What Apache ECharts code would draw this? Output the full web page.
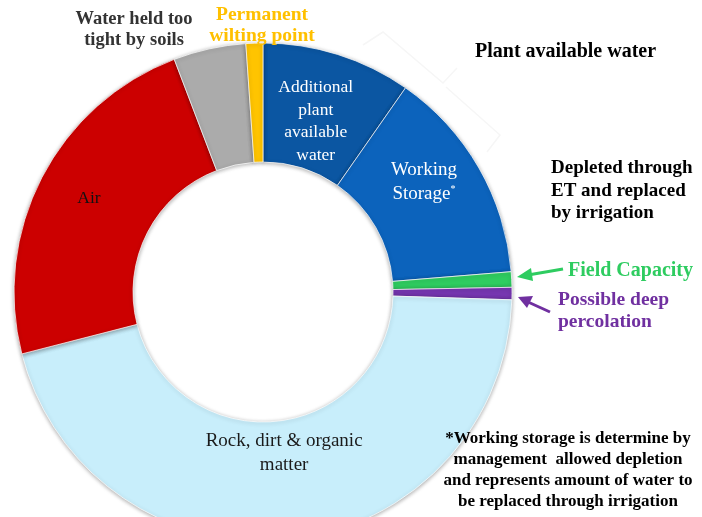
<!DOCTYPE html>
<html>
<head>
<meta charset="utf-8">
<script src="https://cdn.jsdelivr.net/npm/echarts@6/dist/echarts.min.js"></script>
<style>
html,body{margin:0;padding:0;background:#fff;}
#chart{width:702px;height:517px;}
</style>
</head>
<body>
<div id="chart"></div>
<script>
// Slice categories (clockwise from 12 o'clock)
const categories = [
  'Additional plant available water',
  'Working Storage',
  'Field Capacity',
  'Possible deep percolation',
  'Rock, dirt & organic matter',
  'Air',
  'Water held too tight by soils',
  'Permanent wilting point'
];
// Share of soil volume (%)
const values = [9.7, 14.0, 1.0, 0.8, 45.5, 23.2, 4.7, 1.1];
// Text drawn inside slices
const sliceLabels = [
  'Additional\nplant\navailable\nwater',
  'Working\nStorage{sup|*}',
  '', '',
  'Rock, dirt & organic\nmatter',
  'Air',
  '', ''
];
// Annotation texts
const annWater = 'Water held too\ntight by soils';
const annWilting = 'Permanent\nwilting point';
const annPlant = 'Plant available water';
const annDepleted = 'Depleted through\nET and replaced\nby irrigation';
const annField = 'Field Capacity';
const annDeep = 'Possible deep\npercolation';
const annFoot = ['*Working storage is determine by', 'management  allowed depletion', 'and represents amount of water to', 'be replaced through irrigation'];

const colors = ['#0b56a2', '#0c63bc', '#2fcc60', '#7636b0', '#c8eefb', '#cc0000', '#ababab', '#ffc400'];
const labelColors = ['#ffffff', '#ffffff', '#000', '#000', '#1a1a1a', '#111111', '#000', '#000'];
const labelSizes = [17.5, 19, 17, 17, 19, 17.5, 17, 17];
const labelShift = [[-5, 13], [-6, -14], [0, 0], [0, 0], [0, -30], [-3, -5], [0, 0], [0, 0]];

const chart = echarts.init(document.getElementById('chart'), null, {renderer: 'canvas'});
const serif = '"Liberation Serif", "DejaVu Serif", serif';

const data = categories.map((c, i) => ({
  name: c,
  value: values[i],
  itemStyle: {color: colors[i]},
  label: {
    show: sliceLabels[i] !== '',
    formatter: sliceLabels[i],
    color: labelColors[i],
    fontSize: labelSizes[i],
    lineHeight: labelSizes[i] + 5
  }
}));

function txt(x, y, text, opts) {
  return {
    type: 'text', x: x, y: y, silent: true, z: 100,
    style: Object.assign({
      text: text, fontFamily: serif, fontWeight: 'bold', fontSize: 19.5,
      fill: '#000', textAlign: 'left', textVerticalAlign: 'middle', lineHeight: 22
    }, opts || {})
  };
}

const graphics = [
  // faint brace
  {type: 'polyline', silent: true, z: 1, shape: {points: [[363, 45], [383, 32], [443, 83], [457, 68]]},
   style: {stroke: '#f6f6f6', lineWidth: 1.5, fill: null}},
  {type: 'polyline', silent: true, z: 1, shape: {points: [[446, 87], [500, 135], [487, 152]]},
   style: {stroke: '#f6f6f6', lineWidth: 1.5, fill: null}},
  txt(134, 30, annWater, {textAlign: 'center', fill: '#333333', lineHeight: 21, fontSize: 18.5}),
  txt(262, 25, annWilting, {textAlign: 'center', fill: '#ffc000', lineHeight: 21, fontSize: 19.5}),
  txt(475, 52, annPlant, {fontSize: 20}),
  txt(551, 191, annDepleted, {lineHeight: 22.5, fontSize: 19}),
  txt(568, 271, annField, {fill: '#2ecc60', fontSize: 20}),
  txt(558, 311, annDeep, {fill: '#7030a0', lineHeight: 22, fontSize: 19.5}),
  // arrows
  {type: 'line', silent: true, z: 100, shape: {x1: 563, y1: 269, x2: 528, y2: 275}, style: {stroke: '#2ecc60', lineWidth: 3}},
  {type: 'polygon', silent: true, z: 100, shape: {points: [[517, 277], [531, 268], [533, 281]]}, style: {fill: '#2ecc60'}},
  {type: 'line', silent: true, z: 100, shape: {x1: 550, y1: 312, x2: 528, y2: 302}, style: {stroke: '#7030a0', lineWidth: 3}},
  {type: 'polygon', silent: true, z: 100, shape: {points: [[518, 297], [533, 296], [527, 308]]}, style: {fill: '#7030a0'}}
];
annFoot.forEach((line, i) => {
  graphics.push({
    type: 'text', x: 568, y: 439 + i * 21, silent: true, z: 100,
    style: {
      text: line, fontFamily: serif, fontWeight: 'bold', fontSize: 17,
      fill: '#000', textAlign: 'center', textVerticalAlign: 'middle'
    }
  });
});

chart.setOption({
  animation: false,
  series: [{
    type: 'pie',
    center: [263, 292],
    radius: [130, 249],
    startAngle: 90,
    clockwise: true,
    avoidLabelOverlap: false,
    itemStyle: {
      borderColor: 'rgba(255,255,255,0.7)', borderWidth: 1,
      shadowBlur: 4, shadowColor: 'rgba(0,0,0,0.35)', shadowOffsetY: 1
    },
    label: {
      position: 'inside',
      fontFamily: serif,
      align: 'center',
      rich: {sup: {fontSize: 10, fontFamily: serif, color: '#fff', padding: [0, 0, 10, 0]}}
    },
    labelLine: {show: false},
    labelLayout: function (p) {
      const s = labelShift[p.dataIndex];
      return {dx: s[0], dy: s[1]};
    },
    emphasis: {disabled: true},
    data: data
  }],
  graphic: graphics
});
</script>
</body>
</html>
